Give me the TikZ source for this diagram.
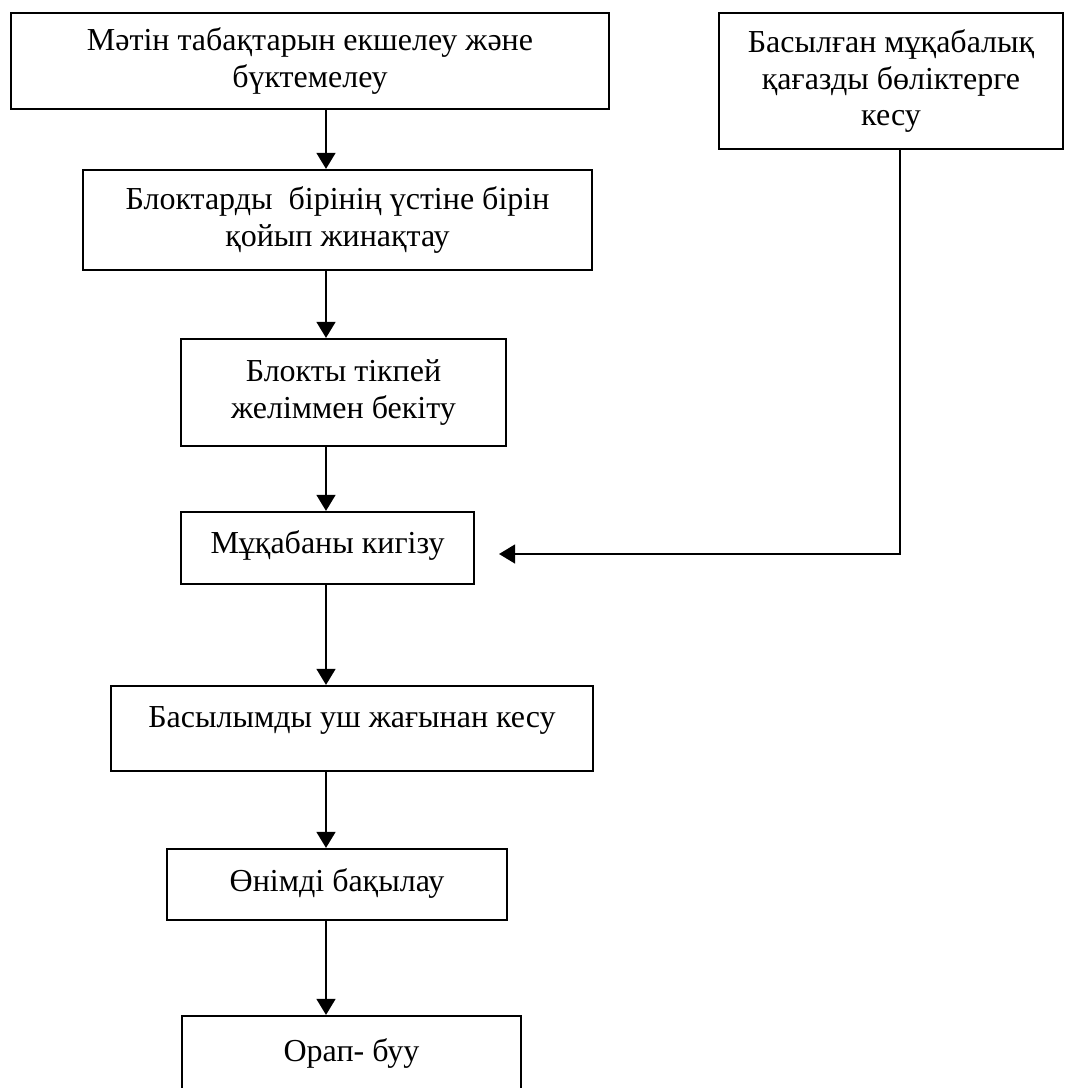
\documentclass[tikz,border=0pt]{standalone}
\usepackage{fontspec}
\setmainfont{Liberation Serif}
\usetikzlibrary{arrows.meta}
\newcommand{\txtat}[2]{\raisebox{#1}[0pt][0pt]{#2}}
\begin{document}
\begin{tikzpicture}[x=0.75pt,y=-0.75pt,
  box/.style={draw,line width=1.6pt,rectangle,inner sep=0pt,
    font=\fontsize{24pt}{27.6pt}\selectfont},
  flow/.style={line width=1.8pt,-{Triangle[length=12pt,width=14pt]}},
]
\useasboundingbox (0,0) rectangle (1064,1088);
\clip (0,0) rectangle (1064,1088);

\node[box,minimum width=448.5pt,minimum height=72pt,align=center] (b1) at (310,61)
  {Мәтін табақтарын екшелеу және\\бүктемелеу};
\node[box,minimum width=258pt,minimum height=102pt,align=center] (b2) at (891,81)
  {Басылған мұқабалық\\қағазды бөліктерге\\кесу};
\node[box,minimum width=381.75pt,minimum height=75pt,align=center] (b3) at (337.5,220)
  {Блоктарды\ \ бірінің үстіне бірін\\қойып жинақтау};
\node[box,minimum width=243.75pt,minimum height=80.25pt,align=center] (b4) at (343.5,392.5)
  {Блокты тікпей\\желіммен бекіту};
\node[box,minimum width=219.75pt,minimum height=54pt] (b5) at (327.5,548)
  {\txtat{-3.75pt}{Мұқабаны кигізу}};
\node[box,minimum width=361.5pt,minimum height=63.75pt] (b6) at (352,728.5)
  {\txtat{1.1pt}{Басылымды уш жағынан кесу}};
\node[box,minimum width=255pt,minimum height=53.25pt] (b7) at (337,884.5)
  {\txtat{-4.9pt}{Өнімді бақылау}};
\node[box,minimum width=254.25pt,minimum height=70.5pt] (b8) at (351.5,1063)
  {\txtat{1.5pt}{Орап- буу}};

\coordinate (ax) at (326,0);
\coordinate (rx) at (900,0);
\coordinate (tip) at (499,554);

\draw[flow] (b1.south -| ax) -- (b3.north -| ax);
\draw[flow] (b3.south -| ax) -- (b4.north -| ax);
\draw[flow] (b4.south -| ax) -- (b5.north -| ax);
\draw[flow] (b5.south -| ax) -- (b6.north -| ax);
\draw[flow] (b6.south -| ax) -- (b7.north -| ax);
\draw[flow] (b7.south -| ax) -- (b8.north -| ax);
\draw[flow] (b2.south -| rx) |- (tip);
\end{tikzpicture}
\end{document}
